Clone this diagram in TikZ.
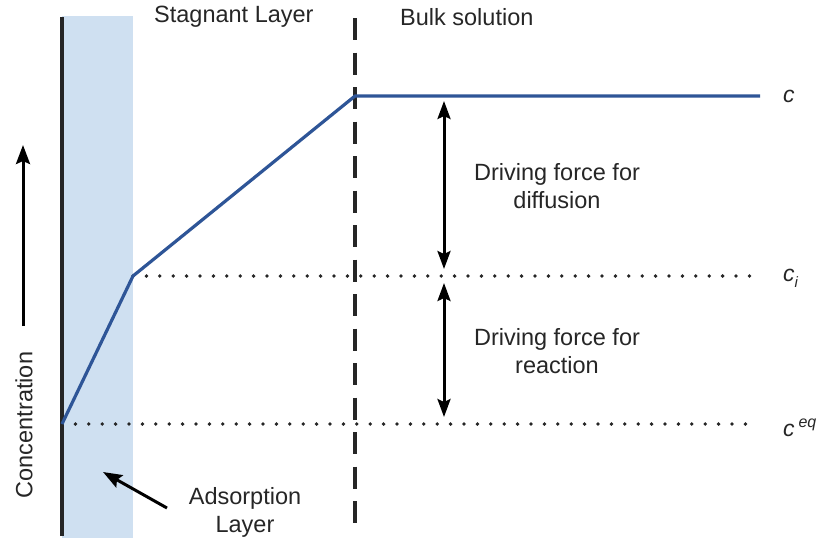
\documentclass[tikz,border=0pt]{standalone}
\usepackage{fontspec}
\setmainfont{Liberation Sans}
\usetikzlibrary{arrows.meta}
\definecolor{layerblue}{HTML}{CFE0F1}
\definecolor{curveblue}{HTML}{2E5597}
\definecolor{txt}{HTML}{262626}
\tikzset{
  lbl/.style={font=\fontsize{23.5}{28}\selectfont, text=txt, inner sep=0pt, align=center},
  conc/.style={font=\fontsize{23}{26}\selectfont\itshape, text=txt, inner sep=0pt, anchor=west},
  dotline/.style={line width=3.8pt, line cap=round, dash pattern=on 0pt off 13.4pt, black!85},
  profile/.style={line width=3.2pt, curveblue, line join=round},
  dbl/.style={line width=3pt, {Stealth[length=18pt,width=13pt,inset=3pt]}-{Stealth[length=18pt,width=13pt,inset=3pt]}},
  sgl/.style={line width=3pt, -{Stealth[length=19pt,width=14pt,inset=3pt]}}
}
\begin{document}
\begin{tikzpicture}[x=1pt,y=-1pt]
  \useasboundingbox (0,0) rectangle (819,542);

  % adsorption layer and wall
  \fill[layerblue] (62,16) rectangle (133,538);
  \coordinate (wtop) at (62,17);
  \coordinate (wbot) at (62,536);
  \draw[line width=3.2pt, black!85] (wtop) -- (wbot);

  % boundary between stagnant layer and bulk solution
  \coordinate (btop) at (355,18);
  \coordinate (bbot) at (355,532);
  \draw[line width=3.2pt, black!85, dash pattern=on 22pt off 12.5pt] (btop) -- (bbot);

  % key points of the concentration profile
  \coordinate (p0) at (62,424);
  \coordinate (p1) at (133,276);
  \coordinate (p2) at (355,96);
  \coordinate (p3) at (760,96);

  % reference levels
  \coordinate (ciend) at (752,276);
  \coordinate (ceqend) at (757,424);
  \draw[dotline] (p1) -- (ciend);
  \draw[dotline] (p0) -- (ceqend);

  % profile
  \draw[profile] (p0) -- (p1) -- (p2) -- (p3);

  % level labels
  \node[conc] (lc) at (783,96) {c};
  \node[conc] (lci) at (783,278) {c\raisebox{-6pt}{\fontsize{15}{17}\selectfont i}};
  \node[conc] (lceq) at (783,428) {c\,\raisebox{9pt}{\fontsize{16}{18}\selectfont eq}};

  % driving forces
  \coordinate (d1a) at (444,101);
  \coordinate (d1b) at (444,269);
  \coordinate (d2a) at (444,283);
  \coordinate (d2b) at (444,417);
  \draw[dbl] (d1a) -- (d1b);
  \draw[dbl] (d2a) -- (d2b);
  \node[lbl] (tdiff) at (557,186) {Driving force for\\diffusion};
  \node[lbl] (treac) at (557,351) {Driving force for\\reaction};

  % region titles
  \node[lbl, anchor=west] (tstag) at (154,17) {Stagnant Layer};
  \node[lbl, anchor=west] (tbulk) at (400,17) {Bulk solution};

  % concentration axis
  \coordinate (ca) at (23,326);
  \coordinate (cb) at (23,145);
  \draw[sgl] (ca) -- (cb);
  \node[lbl, rotate=90] (tconc) at (24,425) {Concentration};

  % adsorption layer label
  \node[lbl] (tads) at (245,512) {Adsorption\\Layer};
  \coordinate (aa) at (167,508);
  \coordinate (ab) at (103,472);
  \draw[sgl] (aa) -- (ab);
\end{tikzpicture}
\end{document}
